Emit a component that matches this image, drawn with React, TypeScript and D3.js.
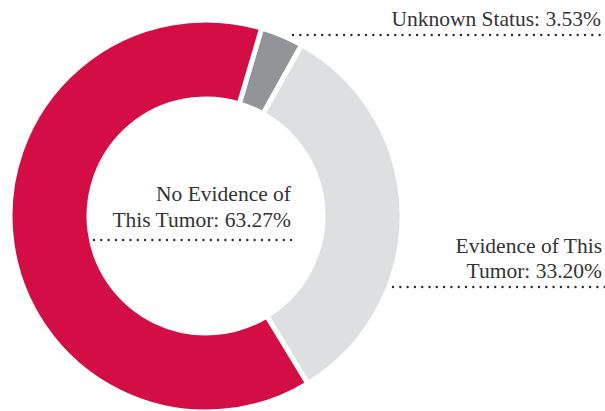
import React from "react";
import * as d3 from "d3";

const categories = ["Unknown Status", "Evidence of This Tumor", "No Evidence of This Tumor"];
const values = [3.53, 33.2, 63.27];
const colors = ["#939497", "#dedfe1", "#d20e45"];
const labelLines = [["Unknown Status: 3.53%"], ["Evidence of This", "Tumor: 33.20%"], ["No Evidence of", "This Tumor: 63.27%"]];

const W = 605, H = 411;
const cx = 206, cy = 216, rOuter = 196, rInner = 117;
const startDeg = 16.5;

export default function App() {
  const pie = d3.pie<number>().sort(null).value(d => d)
    .startAngle((startDeg * Math.PI) / 180)
    .endAngle(((startDeg + 360) * Math.PI) / 180);
  const arcs = pie(values);
  const arc = d3.arc<d3.PieArcDatum<number>>().innerRadius(rInner).outerRadius(rOuter);

  const font = "'Liberation Serif', 'DejaVu Serif', serif";
  const fs = 21.5;
  const labels = [
    { x: 601, ys: [26], lineY: 35, x1: 293, x2: 605 },
    { x: 602, ys: [253, 278], lineY: 287, x1: 393, x2: 605 },
    { x: 291, ys: [201, 227], lineY: 240, x1: 94, x2: 292 },
  ];

  return (
    <svg width={W} height={H} style={{ position: "absolute", left: 0, top: 0, background: "#fff" }}>
      <g transform={`translate(${cx},${cy})`}>
        {arcs.map((a, i) => (
          <path key={categories[i]} d={arc(a) || ""} fill={colors[i]} stroke="#fff" strokeWidth={5} strokeLinejoin="miter" />
        ))}
      </g>
      {labels.map((l, i) => (
        <g key={i}>
          <line x1={l.x1} x2={l.x2} y1={l.lineY} y2={l.lineY} stroke="#2a2a2a" strokeWidth={2.4} strokeDasharray="0 7.3" strokeLinecap="round" />
          {labelLines[i].map((t, j) => (
            <text key={j} x={l.x} y={l.ys[j]} textAnchor="end" fontFamily={font} fontSize={fs} fill="#333">{t}</text>
          ))}
        </g>
      ))}
    </svg>
  );
}
